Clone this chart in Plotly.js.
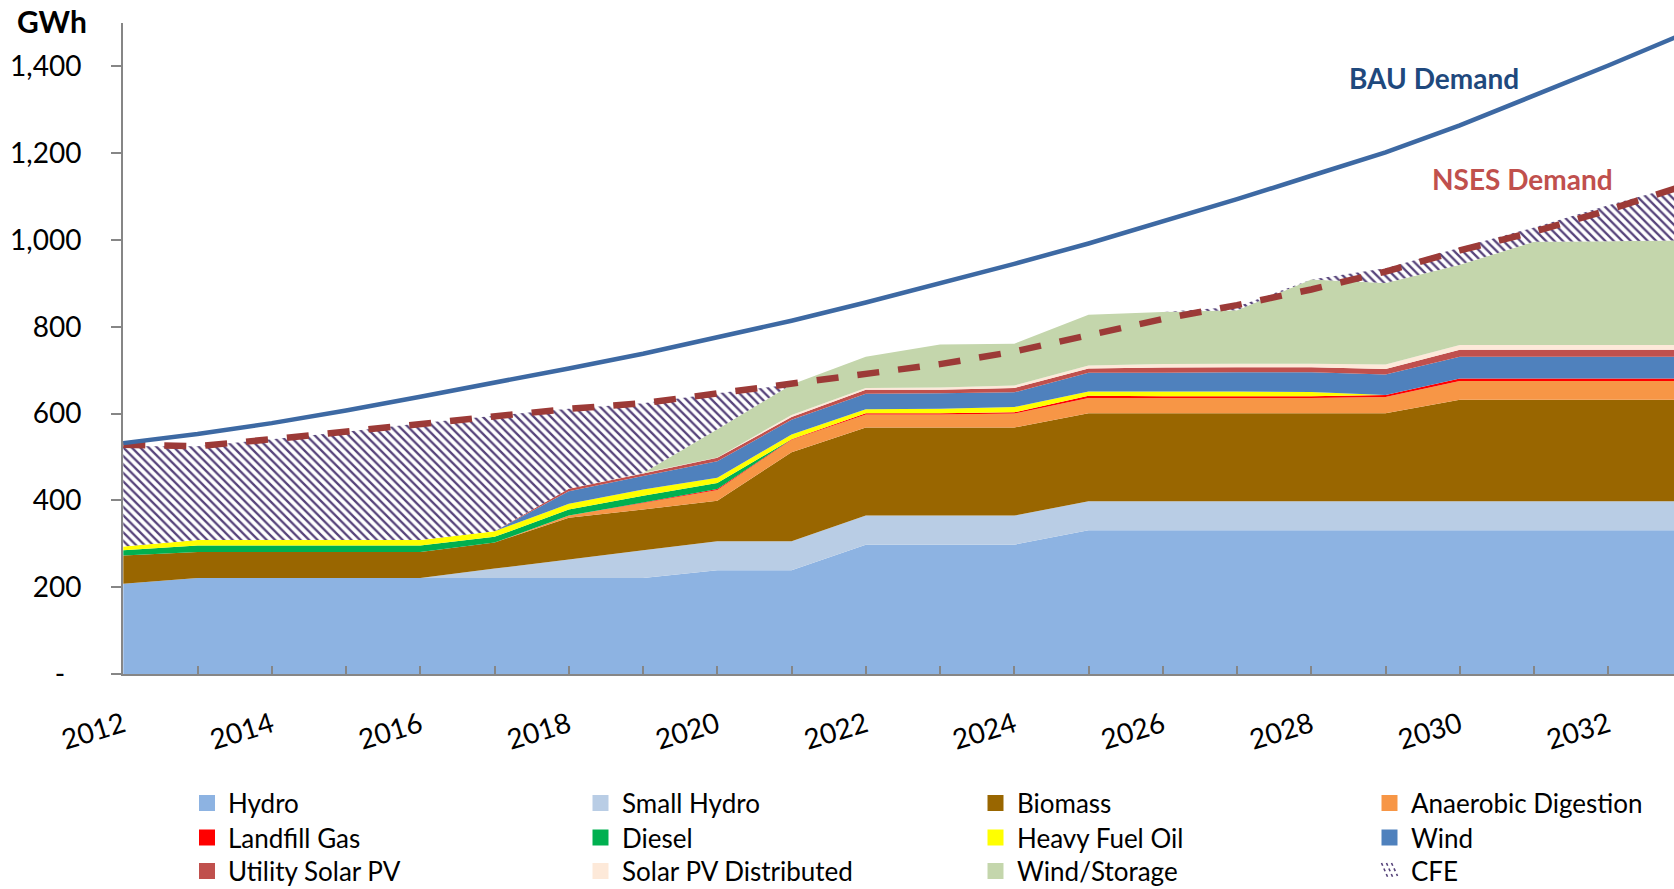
<!DOCTYPE html>
<html>
<head>
<meta charset="utf-8">
<script src="https://cdn.plot.ly/plotly-3.0.1.min.js"></script>
<style>
html,body{margin:0;padding:0;background:#ffffff;}
#chart{width:1674px;height:889px;}
</style>
</head>
<body>
<div id="chart"></div>
<script>
// ---------- data (GWh) ----------
const years = [2012,2013,2014,2015,2016,2017,2018,2019,2020,2021,2022,2023,2024,2025,2026,2027,2028,2029,2030,2031,2032,2033];

const hydro        = [208,221,221,221,221,221,221,221,239,239,298,298,298,331,331,331,331,331,331,331,331,331];
const smallHydro   = [0,0,0,0,0,22,43,64,67,67,67,67,67,67,67,67,67,67,67,67,67,67];
const biomass      = [65,60,60,60,60,60,96,94,93,205,203,203,203,203,203,203,203,203,234,234,234,234];
const anaerobic    = [0,0,0,0,0,0,5,15,25,29,30,30,32,35,35,35,35,37,43,43,43,43];
const landfillGas  = [0,0,0,0,0,0,0,1,2,1,3,3,3,5,4,4,4,5,6,6,6,6];
const diesel       = [12,15,15,15,15,13,14,16,14,0,0,0,0,0,0,0,0,0,0,0,0,0];
const heavyFuelOil = [9,13,13,13,13,13,13,14,12,11,9,10,12,10,11,11,10,0,0,0,0,0];
const wind         = [0,0,0,0,0,0,29,31,38,34,36,36,34,43,43,44,45,47,50,50,50,50];
const utilitySolar = [0,0,0,0,0,0,6,6,8,6,9,8,10,10,12,12,12,13,16,16,16,16];
const solarDist    = [0,0,0,0,0,0,0,1,1,5,4,5,6,7,8,8,8,10,11,11,11,11];
const windStorage  = [0,0,0,0,0,0,0,0,65,70,72,99,96,117,120,123,194,188,185,238,239,241];
const cfe          = [231,216,232,249,269,266,184,161,83,0,0,0,0,0,0,8,0,34,39,33,83,128];

const bauDemand  = [532,553,578,607,639,671,704,738,775,814,856,900,945,992,1042,1094,1148,1202,1264,1332,1402,1474];
const nsesDemand = [528,525,541,558,578,595,611,624,647,670,692,714,743,782,818,850,886,927,976,1019,1069,1124];

const seriesNames = ['Hydro','Small Hydro','Biomass','Anaerobic Digestion','Landfill Gas','Diesel',
                     'Heavy Fuel Oil','Wind','Utility Solar PV','Solar PV Distributed','Wind/Storage','CFE'];
const seriesValues = [hydro,smallHydro,biomass,anaerobic,landfillGas,diesel,
                      heavyFuelOil,wind,utilitySolar,solarDist,windStorage,cfe];

const yTickVals = [0,200,400,600,800,1000,1200,1400];
const yTickText = ['-\u2007','200','400','600','800','1,000','1,200','1,400'];

// ---------- styles ----------
const seriesColors = ['#8DB3E2','#B9CDE5','#996600','#F79646','#FF0000','#00B050',
                      '#FFFF00','#4F81BD','#C0504D','#FDE9D9','#C4D6AC','#FFFFFF'];
const hatchColor = '#56437A';

const W = 1674, H = 889, L = 123, R = 0, T = 23, B = 215;
const plotW = W - L - R, plotH = H - T - B;
const pxPerYear = 74.25;
const xr0 = 2012 - 0.3 / pxPerYear;
const xr1 = xr0 + plotW / pxPerYear;
function px(x){ return (x - L) / plotW; }
function py(y){ return (H - B - y) / plotH; }

const traces = [];
seriesNames.forEach((name, i) => {
  const tr = {
    x: years, y: seriesValues[i], name: name, type: 'scatter', mode: 'none',
    stackgroup: 'gen', fillcolor: seriesColors[i], showlegend: false, hoverinfo: 'x+y+name'
  };
  if (name === 'CFE') {
    tr.fillpattern = {shape: '\\', fgcolor: hatchColor, bgcolor: '#FFFFFF', size: 6, solidity: 0.38};
  }
  traces.push(tr);
});
traces.push({x: years, y: nsesDemand, name: 'NSES Demand', type: 'scatter', mode: 'lines',
  line: {color: '#9C3A37', width: 6.5, dash: '22px,19px'}, showlegend: false});
traces.push({x: years, y: bauDemand, name: 'BAU Demand', type: 'scatter', mode: 'lines',
  line: {color: '#3D69A3', width: 4.5}, showlegend: false});

// ---------- custom legend ----------
const colX = [199, 592.5, 987.5, 1381.5];
const rowY = [803, 837.5, 871];
const shapes = [], annotations = [];
seriesNames.forEach((name, i) => {
  const c = i % 4, r = Math.floor(i / 4);
  const x0 = colX[c], yc = rowY[r];
  if (name === 'CFE') {
    let d = '';
    [[0,0,7,16],[5,0,12,16],[10,0,16,13]].forEach(s => {
      d += 'M' + px(x0 + s[0]) + ',' + py(yc - 8 + s[1]) + ' L' + px(x0 + s[2]) + ',' + py(yc - 8 + s[3]) + ' ';
    });
    shapes.push({type: 'path', xref: 'paper', yref: 'paper', path: d,
      line: {color: hatchColor, width: 1.6, dash: 'dot'}});
  } else {
    shapes.push({type: 'rect', xref: 'paper', yref: 'paper',
      x0: px(x0), x1: px(x0 + 16), y0: py(yc + 8), y1: py(yc - 8),
      fillcolor: seriesColors[i], line: {width: 0}});
  }
  annotations.push({xref: 'paper', yref: 'paper', x: px(x0 + 27), y: py(yc), text: name,
    showarrow: false, xanchor: 'left', yanchor: 'middle',
    font: {family: 'Lato', size: 26, color: '#000000'}});
});

annotations.push({xref: 'paper', yref: 'paper', x: px(52), y: py(21), text: '<b>GWh</b>',
  showarrow: false, xanchor: 'center', yanchor: 'middle', font: {family: 'Lato', size: 30, color: '#000000'}});
annotations.push({xref: 'paper', yref: 'paper', x: px(1434), y: py(77.5), text: '<b>BAU Demand</b>',
  showarrow: false, xanchor: 'center', yanchor: 'middle', font: {family: 'Lato', size: 28, color: '#1F497D'}});
annotations.push({xref: 'paper', yref: 'paper', x: px(1522), y: py(179), text: '<b>NSES Demand</b>',
  showarrow: false, xanchor: 'center', yanchor: 'middle', font: {family: 'Lato', size: 28, color: '#C0504D'}});

const axisGray = '#868686';
const layout = {
  width: W, height: H,
  margin: {l: L, r: R, t: T, b: B, pad: 0},
  paper_bgcolor: '#FFFFFF', plot_bgcolor: '#FFFFFF',
  font: {family: 'Lato', color: '#000000'},
  showlegend: false,
  xaxis: {
    range: [xr0, xr1], tickmode: 'linear', tick0: 2012, dtick: 2,
    ticks: 'inside', ticklen: 8, tickwidth: 2, tickcolor: axisGray,
    showline: true, linecolor: axisGray, linewidth: 2,
    showgrid: false, zeroline: false, tickangle: -17,
    tickfont: {family: 'Lato', size: 28, color: '#000000'},
    ticklabelstandoff: 22,
    minor: {tick0: 2012, dtick: 1, ticks: 'inside', ticklen: 8, tickwidth: 2, tickcolor: axisGray, showgrid: false}
  },
  yaxis: {
    range: [0, 1500], tickmode: 'array', tickvals: yTickVals, ticktext: yTickText,
    ticks: 'outside', ticklen: 10, tickwidth: 2, tickcolor: axisGray,
    showline: true, linecolor: axisGray, linewidth: 2,
    showgrid: false, zeroline: false,
    tickfont: {family: 'Lato', size: 28, color: '#000000'},
    ticklabelstandoff: 24
  },
  shapes: shapes,
  annotations: annotations
};

Plotly.newPlot('chart', traces, layout, {displayModeBar: false, staticPlot: true});
</script>
</body>
</html>
